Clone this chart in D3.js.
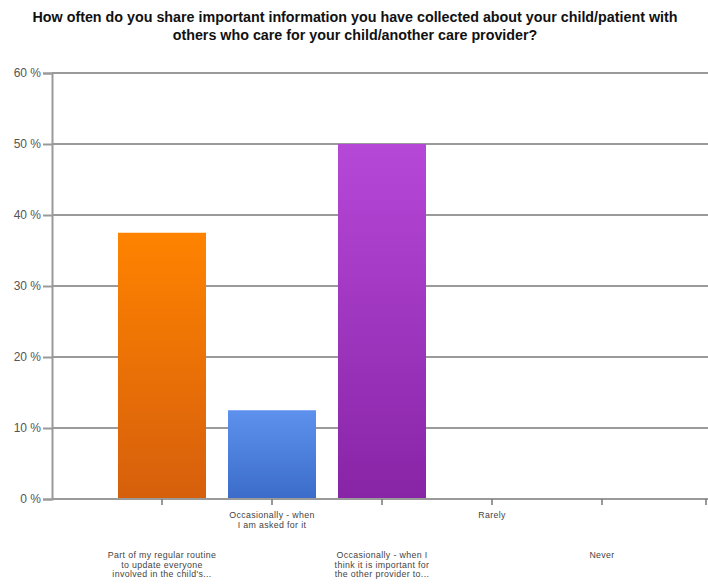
<!DOCTYPE html>
<html>
<head>
<meta charset="utf-8">
<script src="https://cdn.jsdelivr.net/npm/d3@7"></script>
<style>
  html, body { margin: 0; padding: 0; background: #fff; }
  svg { display: block; }
</style>
</head>
<body>
<svg id="chart" width="708" height="588"></svg>
<script>
const titleLines = [
  "How often do you share important information you have collected about your child/patient with",
  "others who care for your child/another care provider?"
];
const categories = [
  "Part of my regular routine\nto update everyone\ninvolved in the child's...",
  "Occasionally - when\nI am asked for it",
  "Occasionally - when I\nthink it is important for\nthe other provider to...",
  "Rarely",
  "Never"
];
const values = [37.5, 12.5, 50, 0, 0];
const yTicks = [0, 10, 20, 30, 40, 50, 60];
const barColors = [
  ["#ff8300", "#d65f0c"],
  ["#5e91ee", "#3b6cc9"],
  ["#b648d8", "#8824a6"]
];

(function () {
const W = 708, H = 588;
const mLeft = 52, mRight = 708, mTop = 73, mBottom = 499;
const svg = d3.select("#chart");
svg.append("rect").attr("width", W).attr("height", H).attr("fill", "#fff");

const y = d3.scaleLinear().domain([0, 60]).range([mBottom, mTop]);
const x = d3.scaleBand().domain(categories).range([107, 657]).paddingInner(0.2).paddingOuter(0.1);

// gradients
const defs = svg.append("defs");
barColors.forEach((c, i) => {
  const g = defs.append("linearGradient").attr("id", "g" + i)
    .attr("x1", 0).attr("y1", 0).attr("x2", 0).attr("y2", 1);
  g.append("stop").attr("offset", "0%").attr("stop-color", c[0]);
  g.append("stop").attr("offset", "100%").attr("stop-color", c[1]);
});

// title
svg.append("g").selectAll("text").data(titleLines).join("text")
  .attr("x", W / 2 + 1).attr("y", (d, i) => 22 + i * 18)
  .attr("text-anchor", "middle")
  .attr("font-family", "Liberation Sans, Arial, sans-serif")
  .attr("font-weight", "bold").attr("font-size", 14.3)
  .attr("fill", "#111").text(d => d);

// grid lines
const gridColor = "#9a9a9a";
svg.append("g").selectAll("line").data(yTicks.filter(t => t > 0)).join("line")
  .attr("x1", mLeft).attr("x2", mRight)
  .attr("y1", d => y(d)).attr("y2", d => y(d))
  .attr("stroke", gridColor).attr("stroke-width", 2);

// y axis
const yAxis = d3.axisLeft(y).tickValues(yTicks).tickFormat(d => d + " %").tickSize(9).tickPadding(2);
const yg = svg.append("g").attr("transform", `translate(${mLeft},0)`).call(yAxis);
yg.select(".domain").attr("stroke", gridColor).attr("stroke-width", 2);
yg.selectAll(".tick line").attr("stroke", gridColor).attr("stroke-width", 2);
yg.selectAll(".tick text").attr("font-family", "Liberation Sans, Arial, sans-serif")
  .attr("font-size", 12).attr("fill", "#555");

// bars
svg.append("g").selectAll("rect").data(values).join("rect")
  .attr("x", (d, i) => x(categories[i]))
  .attr("width", x.bandwidth())
  .attr("y", d => y(d))
  .attr("height", d => mBottom - y(d))
  .attr("fill", (d, i) => i < barColors.length ? `url(#g${i})` : "none");

// x axis
svg.append("line").attr("x1", mLeft).attr("x2", mRight).attr("y1", mBottom).attr("y2", mBottom)
  .attr("stroke", gridColor).attr("stroke-width", 2);
const xg = svg.append("g").attr("transform", `translate(0,${mBottom})`)
  .call(d3.axisBottom(x).tickSize(6).tickFormat(""));
xg.select(".domain").remove();
xg.selectAll(".tick line").attr("stroke", "#777").attr("stroke-width", 1.5);
svg.append("line").attr("x1", 706).attr("x2", 706).attr("y1", mBottom).attr("y2", mBottom + 6)
  .attr("stroke", "#777").attr("stroke-width", 1.5);

// category labels, staggered
const lab = svg.append("g").attr("font-family", "Liberation Sans, Arial, sans-serif")
  .attr("font-size", 8.8).attr("letter-spacing", 0.35).attr("fill", "#444").attr("text-anchor", "middle");
categories.forEach((c, i) => {
  const lines = c.split("\n");
  const y0 = i % 2 === 1 ? 518 : 558;
  const cx = x(c) + x.bandwidth() / 2;
  const t = lab.append("text").attr("x", cx).attr("y", y0);
  lines.forEach((l, j) => {
    t.append("tspan").attr("x", cx).attr("y", y0 + j * 9.6).text(l);
  });
});
})();
</script>
</body>
</html>
